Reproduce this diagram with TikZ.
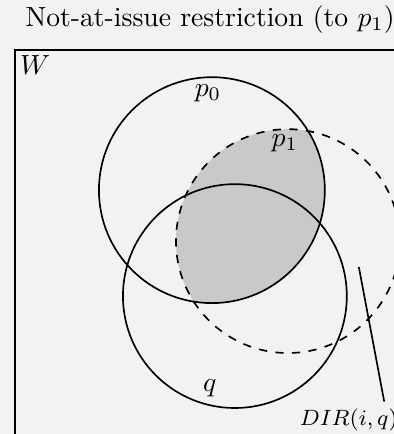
\documentclass[tikz,border=0pt]{standalone}
\usepackage{tikz}
\usetikzlibrary{positioning}
\definecolor{bgGray}{HTML}{F2F2F2}
\definecolor{shadeGray}{HTML}{C9C9C9}
\tikzset{
  setline/.style={semithick},
  dashedset/.style={semithick,dashed},
  setlabel/.style={inner sep=1pt},
  dirlabel/.style={inner sep=0pt,font=\footnotesize},
}

\begin{document}
\begin{tikzpicture}[x=1cm,y=1cm]
  \clip (0,0) rectangle (5,5.51);
  \fill[bgGray] (0,0) rectangle (5,5.51);

  \node[anchor=base west, inner sep=0pt] (title) at (0.317,5.178) {Not-at-issue restriction (to $p_1$)};

  \node[draw, setline, anchor=north west, minimum width=5.4cm, minimum height=5.4cm] (world) at (0.178,4.886) {};
  \node[anchor=north west, inner sep=2pt] (wlbl) at (world.north west) {$W$};

  % shaded part: p0 cap p1
  \begin{scope}
    \clip (2.690,3.096) circle (1.434);
    \fill[shadeGray] (3.655,2.449) circle (1.421);
  \end{scope}
  \draw[setline] (2.690,3.096) circle (1.434);
  \draw[setline] (2.982,1.751) circle (1.421);
  \draw[dashedset] (3.655,2.449) circle (1.421);

  \node[setlabel] (p0lbl) at (2.640,4.327) {$p_0$};
  \node[setlabel] (p1lbl) at (3.617,3.693) {$p_1$};
  \node[setlabel] (qlbl)  at (2.665,0.584) {$q$};

  \node[dirlabel, anchor=base west] (dirlbl) at (3.80,0.114) {$DIR(i,q)$};
  \coordinate (dirtip) at (4.556,2.119);
  \draw[setline] (dirtip) -- ([xshift=0.45cm,yshift=0.08cm]dirlbl.north);
\end{tikzpicture}
\end{document}
